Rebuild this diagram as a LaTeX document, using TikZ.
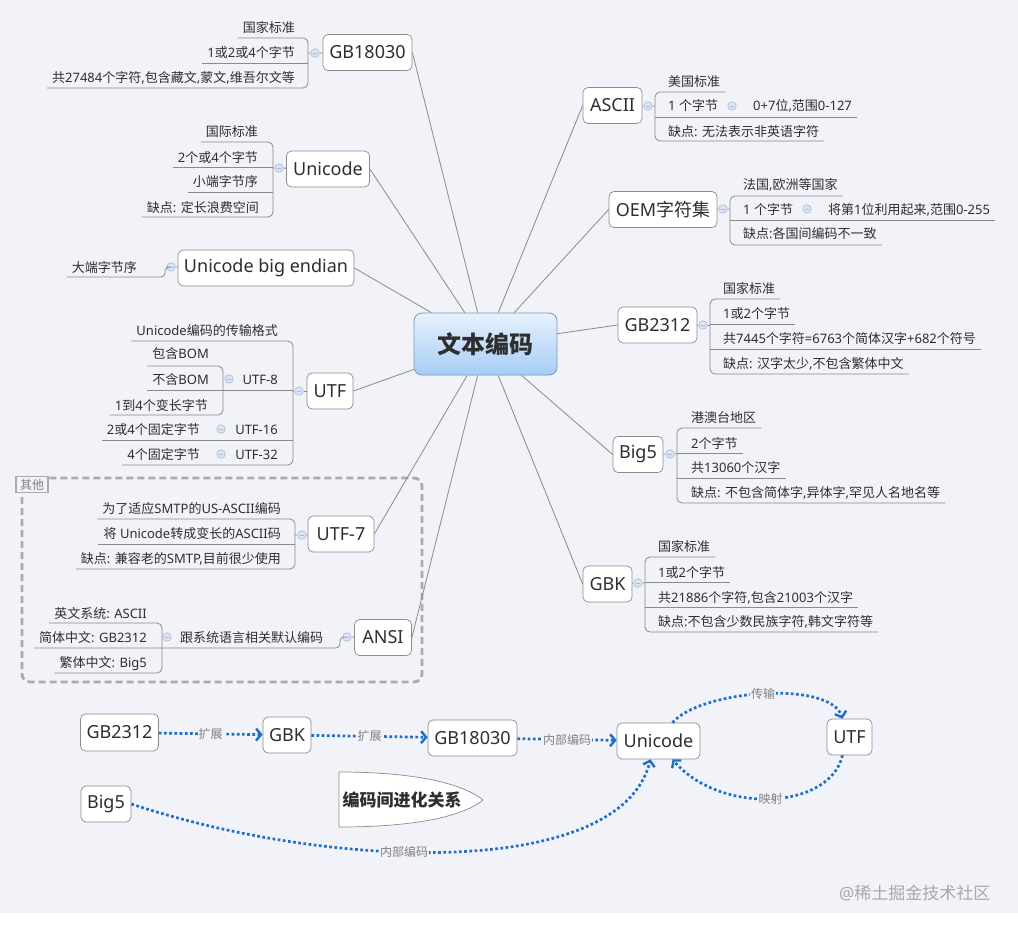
\documentclass[tikz,border=0pt]{standalone}
\usepackage{fontspec}
\setmainfont{Noto Sans}
\newfontfamily\cjkf{Noto Sans CJK SC}
\XeTeXinterchartokenstate=1
\newXeTeXintercharclass\cjkcls
\newcount\cjkcnt
\cjkcnt="3000
\loop \XeTeXcharclass\cjkcnt=\cjkcls \ifnum\cjkcnt<"303F \advance\cjkcnt by 1 \repeat
\cjkcnt="4E00
\loop \XeTeXcharclass\cjkcnt=\cjkcls \ifnum\cjkcnt<"9FFF \advance\cjkcnt by 1 \repeat
\cjkcnt="FF00
\loop \XeTeXcharclass\cjkcnt=\cjkcls \ifnum\cjkcnt<"FFEF \advance\cjkcnt by 1 \repeat
\XeTeXinterchartoks 0 \cjkcls = {\begingroup\cjkf}
\XeTeXinterchartoks 4095 \cjkcls = {\begingroup\cjkf}
\XeTeXinterchartoks \cjkcls 0 = {\endgroup}
\XeTeXinterchartoks \cjkcls 4095 = {\endgroup}
\usetikzlibrary{arrows.meta}
\definecolor{bg}{HTML}{F2F3F8}
\definecolor{txt}{HTML}{2E2E2E}
\definecolor{lnc}{HTML}{8A8A8A}
\definecolor{tbord}{HTML}{8C8C8C}
\definecolor{foldf}{HTML}{DCE4F3}
\definecolor{foldb}{HTML}{A5B9E0}
\definecolor{cbord}{HTML}{7F96B8}
\definecolor{ctop}{HTML}{E6F2FE}
\definecolor{cbot}{HTML}{A6CDF5}
\definecolor{dotc}{HTML}{1F6EC8}
\definecolor{labc}{HTML}{7F7F7F}
\definecolor{dashc}{HTML}{ABABAB}
\definecolor{wmc}{HTML}{A8A8A8}
\tikzset{
 topic/.style={draw=tbord, fill=white, rounded corners=5pt, minimum height=36pt, inner xsep=6pt, font=\fontsize{18}{20}\selectfont, text=txt, line width=0.7pt},
 it/.style={font=\fontsize{13}{15}\selectfont, text=txt, inner xsep=5pt, inner ysep=1pt},
 ln/.style={draw=lnc, line width=0.8pt},
 mainln/.style={draw=lnc, line width=0.8pt},
 fold/.style={circle, draw=foldb, fill=foldf, minimum size=8.5pt, inner sep=0pt, line width=0.6pt,
   path picture={\draw[foldb,line width=0.7pt] ([xshift=-2.2pt]path picture bounding box.center) -- ([xshift=2.2pt]path picture bounding box.center);}},
 dotarrow/.style={draw=dotc, line width=2.7pt, dash pattern=on 2.7pt off 2.5pt, -{Straight Barb[length=5pt,width=12pt,line width=2.4pt]}},
 lab/.style={fill=bg, text=labc, font=\fontsize{12}{14}\selectfont, inner sep=1pt},
}
\begin{document}
\begin{tikzpicture}[x=1pt,y=-1pt]
\useasboundingbox (0,0) rectangle (1018,929);
\fill[white] (0,0) rectangle (1018,929);
\fill[bg] (0,0) rectangle (1018,913);

% dashed group
\draw[dashc, line width=2.8pt, dash pattern=on 7pt off 4pt, rounded corners=8pt] (22,478) rectangle (422,682);
\node[draw=dashc, line width=1.8pt, fill=bg, text=labc, font=\fontsize{12}{14}\selectfont, inner sep=1.5pt, minimum width=32pt, minimum height=16pt] (other) at (32,484.5) {其他};

% root
\node[draw=cbord, line width=0.8pt, rounded corners=8pt, top color=ctop, bottom color=cbot, minimum width=143pt, minimum height=62pt, font=\fontsize{24}{26}\selectfont\bfseries, text=txt] (root) at (485.5,344) {文本编码};

% topics
\node[topic, minimum width=89pt] (GB18030) at (367.5,52.5) {GB18030};
\node[topic, minimum width=83pt] (Unicode) at (328,169) {Unicode};
\node[topic, minimum width=176pt] (UBE) at (266,268) {Unicode big endian};
\node[topic, minimum width=46pt] (UTF) at (330,391) {UTF};
\node[topic, minimum width=66pt] (UTF7) at (341,534) {UTF-7};
\node[topic, minimum width=57pt] (ANSI) at (383,637.5) {ANSI};
\node[topic, minimum width=59pt] (ASCII) at (612.5,105.5) {ASCII};
\node[topic, minimum width=108pt] (OEM) at (663,209.5) {OEM字符集};
\node[topic, minimum width=79pt] (GB2312) at (657.5,325) {GB2312};
\node[topic, minimum width=50pt] (Big5) at (638,454.5) {Big5};
\node[topic, minimum width=49pt] (GBK) at (607.5,584) {GBK};

% main connectors
\draw[mainln] (GB18030.east) -- (root);
\draw[mainln] (Unicode.east) -- (root);
\draw[mainln] (UBE.east) -- (root);
\draw[mainln] (UTF.east) -- (root);
\draw[mainln] (UTF7.east) -- (root);
\draw[mainln] (ANSI.east) -- (root);
\draw[mainln] (ASCII.west) -- (root);
\draw[mainln] (OEM.west) -- (root);
\draw[mainln] (GB2312.west) -- (root);
\draw[mainln] (Big5.west) -- (root);
\draw[mainln] (GBK.west) -- (root);

% ---- GB18030 group
\node[it, anchor=base east] (a1) at (300,32) {国家标准};
\node[it, anchor=base east] (a2) at (300,57) {1或2或4个字节};
\node[it, anchor=base east] (a3) at (300,82) {共27484个字符,包含藏文,蒙文,维吾尔文等};
\draw[ln, rounded corners=5pt] (a1.west |- 0,38) -- (308,38) -- (308,88) -- (a3.west |- 0,88);
\draw[ln] (a2.west |- 0,63) -- (308,63);
\node[fold] (fa) at (315,53) {};
\draw[ln] (308,53) -- (fa) -- (GB18030);

% ---- Unicode group
\node[it, anchor=base east] (b1) at (263,136) {国际标准};
\node[it, anchor=base east] (b2) at (263,162) {2个或4个字节};
\node[it, anchor=base east] (b3) at (263,186) {小端字节序};
\node[it, anchor=base east] (b4) at (264,212) {缺点: 定长浪费空间};
\draw[ln, rounded corners=5pt] (b1.west |- 0,142) -- (273,142) -- (273,217) -- (b4.west |- 0,217);
\draw[ln] (b2.west |- 0,167) -- (273,167);
\draw[ln] (b3.west |- 0,192) -- (273,192);
\node[fold] (fb) at (279,168) {};
\draw[ln] (273,168) -- (fb) -- (Unicode);

% ---- Unicode big endian
\node[it, anchor=base east] (c1) at (142,272) {大端字节序};
\node[fold] (fc) at (171,267) {};
\draw[ln, rounded corners=4pt] (c1.west |- 0,277) -- (165,277) -- (165,267) -- (fc);
\draw[ln] (fc) -- (UBE);

% ---- UTF group
\node[it, anchor=base east] (d1) at (283,335) {Unicode编码的传输格式};
\node[it, anchor=base east] (d2) at (283,384) {UTF-8};
\node[it, anchor=base east] (d3) at (283,434) {UTF-16};
\node[it, anchor=base east] (d4) at (283,459) {UTF-32};
\node[fold] (fd2) at (229,379) {};
\node[fold] (fd3) at (221,429) {};
\node[fold] (fd4) at (221,454) {};
\node[it, anchor=base east] (e1) at (214,358) {包含BOM};
\node[it, anchor=base east] (e2) at (214,384) {不含BOM};
\node[it, anchor=base east] (e3) at (213,410) {1到4个变长字节};
\node[it, anchor=base east] (e4) at (205,434) {2或4个固定字节};
\node[it, anchor=base east] (e5) at (205,459) {4个固定字节};
\draw[ln, rounded corners=5pt] (d1.west |- 0,341) -- (293,341) -- (293,465) -- (e5.west |- 0,465);
\draw[ln, rounded corners=5pt] (e1.west |- 0,366) -- (223,366) -- (223,415) -- (e3.west |- 0,415);
\draw[ln] (e2.west |- 0,390) -- (293,390);
\draw[ln] (e4.west |- 0,440) -- (293,440);
\node[fold] (fd) at (299,391) {};
\draw[ln] (293,391) -- (fd) -- (UTF);

% ---- UTF-7 group
\node[it, anchor=base east] (g1) at (286,513) {为了适应SMTP的US-ASCII编码};
\node[it, anchor=base east] (g2) at (286,538) {将 Unicode转成变长的ASCII码};
\node[it, anchor=base east] (g3) at (286,563) {缺点: 兼容老的SMTP,目前很少使用};
\draw[ln, rounded corners=5pt] (g1.west |- 0,519) -- (295,519) -- (295,569) -- (g3.west |- 0,569);
\draw[ln] (g2.west |- 0,544) -- (295,544);
\node[fold] (fg) at (302,535) {};
\draw[ln] (295,535) -- (fg) -- (UTF7);

% ---- ANSI group
\node[it, anchor=base west] (h0) at (175,642) {跟系统语言相关默认编码};
\node[fold] (fh0) at (167,637) {};
\node[it, anchor=base east] (h1) at (152,618) {英文系统: ASCII};
\node[it, anchor=base east] (h2) at (152,642) {简体中文: GB2312};
\node[it, anchor=base east] (h3) at (152,667) {繁体中文: Big5};
\draw[ln, rounded corners=5pt] (h1.west |- 0,623) -- (162,623) -- (162,673) -- (h3.west |- 0,673);
\node[fold] (fh) at (347,637) {};
\draw[ln, rounded corners=4pt] (h2.west |- 0,648) -- (340,648) -- (340,637) -- (fh);
\draw[ln] (fh) -- (ANSI);

% ---- ASCII group
\node[it, anchor=base west] (i1) at (663,86) {美国标准};
\node[it, anchor=base west] (i2) at (663,110) {1 个字节};
\node[it, anchor=base west] (i2c) at (748,110) {0+7位,范围0-127};
\node[it, anchor=base west] (i3) at (663,136) {缺点: 无法表示非英语字符};
\node[fold] (fi2) at (732,106) {};
\draw[ln, rounded corners=5pt] (i1.east |- 0,92) -- (655,92) -- (655,141) -- (i3.east |- 0,141);
\draw[ln] (655,117) -- (i2c.east |- 0,117);
\node[fold] (fi) at (648,106) {};
\draw[ln] (ASCII) -- (fi) -- (655,106);

% ---- OEM group
\node[it, anchor=base west] (j1) at (738,189) {法国,欧洲等国家};
\node[it, anchor=base west] (j2) at (738,214) {1 个字节};
\node[it, anchor=base west] (j2c) at (823,214) {将第1位利用起来,范围0-255};
\node[it, anchor=base west] (j3) at (738,238) {缺点:各国间编码不一致};
\node[fold] (fj2) at (807,209) {};
\draw[ln, rounded corners=5pt] (j1.east |- 0,196) -- (730,196) -- (730,245) -- (j3.east |- 0,245);
\draw[ln] (730,220) -- (j2c.east |- 0,220);
\node[fold] (fj) at (723,209) {};
\draw[ln] (OEM) -- (fj) -- (730,209);

% ---- GB2312 group
\node[it, anchor=base west] (k1) at (718,293) {国家标准};
\node[it, anchor=base west] (k2) at (718,318) {1或2个字节};
\node[it, anchor=base west] (k3) at (718,343) {共7445个字符=6763个简体汉字+682个符号};
\node[it, anchor=base west] (k4) at (718,368) {缺点: 汉字太少,不包含繁体中文};
\draw[ln, rounded corners=5pt] (k1.east |- 0,299) -- (710,299) -- (710,374) -- (k4.east |- 0,374);
\draw[ln] (710,324) -- (k2.east |- 0,324);
\draw[ln] (710,349) -- (k3.east |- 0,349);
\node[fold] (fk) at (703,325) {};
\draw[ln] (GB2312) -- (fk) -- (710,325);

% ---- Big5 group
\node[it, anchor=base west] (l1) at (686,422) {港澳台地区};
\node[it, anchor=base west] (l2) at (686,448) {2个字节};
\node[it, anchor=base west] (l3) at (686,472) {共13060个汉字};
\node[it, anchor=base west] (l4) at (686,497) {缺点: 不包含简体字,异体字,罕见人名地名等};
\draw[ln, rounded corners=5pt] (l1.east |- 0,428) -- (677,428) -- (677,503) -- (l4.east |- 0,503);
\draw[ln] (677,453) -- (l2.east |- 0,453);
\draw[ln] (677,478) -- (l3.east |- 0,478);
\node[fold] (fl) at (670,454) {};
\draw[ln] (Big5) -- (fl) -- (677,454);

% ---- GBK group
\node[it, anchor=base west] (m1) at (653,551) {国家标准};
\node[it, anchor=base west] (m2) at (653,577) {1或2个字节};
\node[it, anchor=base west] (m3) at (653,602) {共21886个字符,包含21003个汉字};
\node[it, anchor=base west] (m4) at (653,626) {缺点:不包含少数民族字符,韩文字符等};
\draw[ln, rounded corners=5pt] (m1.east |- 0,557) -- (645,557) -- (645,632) -- (m4.east |- 0,632);
\draw[ln] (645,582) -- (m2.east |- 0,582);
\draw[ln] (645,607) -- (m3.east |- 0,607);
\node[fold] (fm) at (638,583) {};
\draw[ln] (GBK) -- (fm) -- (645,583);

% ---- evolution diagram
\node[topic, minimum width=77pt, minimum height=37pt] (bGB2312) at (119.5,732.5) {GB2312};
\node[topic, minimum width=48pt] (bGBK) at (287,735) {GBK};
\node[topic, minimum width=89pt] (bGB18030) at (472.5,738) {GB18030};
\node[topic, minimum width=83pt] (bUnicode) at (658.5,741) {Unicode};
\node[topic, minimum width=45pt] (bUTF) at (849.5,737) {UTF};
\node[topic, minimum width=50pt] (bBig5) at (106,804) {Big5};

\draw[fill=white, draw=tbord, line width=0.7pt] (339,772) -- (339,827) .. controls (420,827) and (465,815) .. (483,800) .. controls (465,785) and (420,772) .. (339,772) -- cycle;
\node[font=\fontsize{17}{19}\selectfont\bfseries, text=txt] (rel) at (402,800) {编码间进化关系};

\draw[dotarrow] (bGB2312) -- node[lab] {扩展} (bGBK);
\draw[dotarrow] (bGBK) -- node[lab] {扩展} (bGB18030);
\draw[dotarrow] (bGB18030) -- node[lab] {内部编码} (bUnicode);
\draw[dotarrow] (bBig5.east) .. controls (330,870) and (620,880) .. node[lab, pos=0.42] {内部编码} ([xshift=-8pt]bUnicode.south);
\draw[dotarrow] ([xshift=14pt]bUnicode.north) .. controls (700,690) and (830,680) .. node[lab, pos=0.5] {传输} ([xshift=-7pt]bUTF.north);
\draw[dotarrow] ([xshift=-7pt]bUTF.south) .. controls (830,810) and (720,815) .. node[lab, pos=0.5] {映射} ([xshift=14pt]bUnicode.south);

% watermark
\node[text=wmc, font=\fontsize{17}{19}\selectfont, anchor=east] (wm) at (994,893) {@稀土掘金技术社区};
\end{tikzpicture}
\end{document}
